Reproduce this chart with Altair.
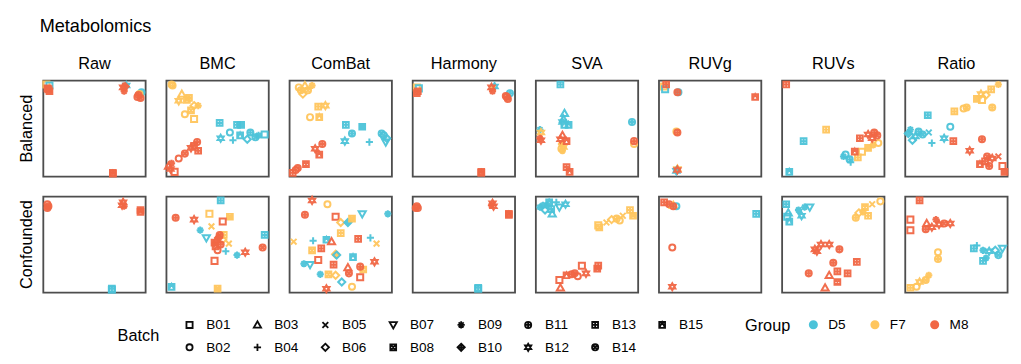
import altair as alt
import pandas as pd

METHODS = ["Raw", "BMC", "ComBat", "Harmony", "SVA", "RUVg", "RUVs", "Ratio"]
DESIGNS = ["Balanced", "Confounded"]
GROUPS = ["D5", "F7", "M8"]
GROUP_COLORS = ["#4CC3D9", "#FFC65D", "#F16745"]
BATCHES = ["B%02d" % i for i in range(1, 16)]

# (batch number, group letter, x, y) in 0-100 panel units
RAW_BAL = [(1,'F',3,96),(1,'D',6,95),(8,'M',4,92),(13,'M',6,89),(1,'M',5,91),
           (12,'D',81,95),(5,'F',79,92),(12,'M',78,93),(9,'M',79,89),(10,'M',80,94),
           (11,'D',96,88),(14,'F',94,86),(11,'M',93,85),(14,'M',95,82),(2,'M',92,83),
           (13,'M',68,4),(15,'M',68,3)]
RAW_CON = [(2,'M',4,92),(11,'M',5,90),(14,'M',4,88),
           (12,'M',78,94),(9,'M',79,90),(12,'M',77,91),
           (15,'M',95,84),(8,'M',95,86),
           (13,'D',67,4),(1,'D',67,3)]
BMC_BAL = [(2,'F',5,96),(11,'F',6,95),(3,'F',15,86),(12,'F',12,79),(13,'F',22,82),(6,'F',27,74),
           (9,'F',31,74),(2,'F',18,65),(1,'F',27,60),(8,'F',24,69),(15,'F',20,80),
           (13,'D',52,56),(13,'D',69,54),(8,'D',73,54),(12,'D',53,40),(2,'D',62,46),(4,'D',65,38),
           (15,'D',72,43),(6,'D',79,39),(11,'D',82,46),(9,'D',90,43),(1,'D',96,44),(14,'D',87,41),
           (11,'M',30,36),(12,'M',24,30),(13,'M',31,27),(14,'M',18,24),(2,'M',12,19),(9,'M',5,14),
           (3,'M',2,11),(12,'M',4,8),(1,'M',8,5),(15,'M',27,32)]
BMC_CON = [(13,'D',53,96),(11,'M',9,78),(12,'M',27,76),(1,'F',42,82),(8,'F',62,79),(1,'M',55,74),
           (9,'D',33,65),(7,'D',39,57),(5,'F',44,69),(5,'F',61,51),(13,'F',56,60),(6,'F',55,55),
           (3,'M',49,55),(14,'M',52,60),(2,'M',50,44),(11,'M',53,50),(8,'M',47,52),(15,'M',48,48),
           (10,'M',51,57),(4,'D',58,43),(1,'M',47,33),
           (9,'D',69,39),(12,'M',77,42),(14,'M',94,47),(13,'D',96,60),(15,'D',5,6),(8,'F',50,4)]
COMBAT_BAL = [(2,'F',9,93),(3,'F',15,95),(9,'F',22,95),(14,'F',18,90),(6,'F',13,86),(11,'F',11,90),
              (13,'F',28,73),(12,'F',35,74),(2,'F',20,62),(15,'F',29,62),
              (13,'D',55,54),(8,'D',71,52),(11,'D',61,45),(12,'D',54,37),(4,'D',78,36),(2,'D',92,43),
              (14,'D',90,45),(6,'D',95,40),(7,'D',94,36),
              (11,'M',32,34),(12,'M',25,29),(15,'M',29,23),(8,'M',16,13),(2,'M',6,7),(13,'M',3,4),(14,'M',8,9)]
COMBAT_CON = [(12,'M',22,96),(2,'F',37,92),(11,'M',15,81),(1,'M',45,79),(6,'F',50,73),(10,'D',57,73),
              (8,'F',61,77),(7,'D',71,82),(9,'D',96,82),(13,'F',50,62),(5,'F',4,53),(4,'D',23,54),
              (15,'D',36,55),(3,'M',41,53),(13,'M',67,56),(4,'D',79,57),(5,'F',85,51),(8,'F',22,44),
              (13,'M',31,46),(10,'F',45,40),(6,'D',46,39),(9,'D',14,30),(7,'D',20,29),(1,'M',28,34),
              (15,'D',62,37),(13,'M',43,29),(3,'M',57,26),(8,'F',72,24),(11,'M',69,27),(12,'M',83,32),
              (14,'M',58,20),(9,'D',30,19),(8,'F',38,19),(6,'F',45,18),(1,'M',69,16),(6,'D',51,11),
              (2,'F',61,6),(12,'M',36,4)]
HARMONY_BAL = [(1,'F',4,93),(1,'D',6,92),(13,'M',5,89),(8,'M',4,87),
               (12,'D',80,94),(5,'F',78,92),(12,'M',77,93),(9,'M',78,89),
               (11,'D',95,87),(11,'M',92,83),(14,'M',93,81),(2,'M',91,84),
               (13,'M',67,5),(15,'M',67,4)]
HARMONY_CON = [(2,'M',4,90),(11,'M',5,88),(14,'M',3,88),
               (12,'M',78,93),(9,'M',77,91),(12,'M',79,90),
               (15,'M',94,81),(8,'M',94,82),
               (13,'D',64,5),(1,'D',64,4)]
SVA_BAL = [(13,'D',24,96),(3,'D',28,66),(3,'D',27,60),(1,'D',28,54),(15,'D',32,54),(12,'D',26,57),
           (9,'D',4,49),(12,'F',5,46),(12,'M',5,38),(9,'M',4,40),
           (9,'F',25,34),(9,'F',26,27),(12,'F',27,31),(2,'F',25,29),
           (3,'M',26,43),(15,'M',30,37),(12,'M',24,39),
           (11,'D',94,57),(2,'F',96,34),(11,'M',96,37),
           (13,'M',30,10),(15,'M',33,5)]
SVA_CON = [(9,'D',4,89),(9,'D',11,91),(3,'D',16,82),(7,'D',23,89),(12,'D',29,92),(15,'D',13,94),
           (9,'D',7,91),(4,'D',20,94),(13,'D',15,87),(6,'D',9,86),
           (1,'F',61,70),(8,'F',62,68),(5,'F',69,73),(6,'F',74,76),(2,'F',82,75),(5,'F',85,80),
           (13,'F',92,86),(8,'F',95,80),(11,'F',79,77),
           (1,'M',23,13),(3,'M',24,5),(11,'M',35,19),(14,'M',38,20),(1,'M',45,28),(12,'M',49,20),
           (8,'M',60,25),(13,'M',61,28),(2,'M',41,17),(15,'M',30,18)]
RUVG_BAL = [(1,'F',5,94),(1,'D',6,91),(13,'M',7,96),(11,'D',19,88),(11,'M',18,88),(15,'M',94,83),
            (2,'F',17,47),(11,'M',18,46),(12,'F',18,8),(12,'D',17,6),(12,'M',18,7)]
RUVG_CON = [(13,'M',5,94),(11,'M',10,92),(3,'F',14,91),(2,'D',17,90),(11,'M',14,90),(13,'D',95,82),
            (2,'M',13,47),(12,'M',13,6)]
RUVS_BAL = [(13,'M',4,96),(13,'F',43,49),(13,'D',21,37),(15,'D',7,5),
            (2,'D',62,23),(11,'D',66,18),(4,'D',67,15),(9,'D',60,21),
            (2,'F',94,35),(8,'F',84,30),(1,'F',78,26),(13,'F',74,20),(9,'F',89,33),
            (13,'M',76,40),(12,'M',84,44),(11,'M',90,46),(14,'M',93,43),(12,'M',88,40),(15,'M',71,26)]
RUVS_CON = [(13,'D',4,92),(15,'D',7,74),(3,'D',6,83),(9,'D',16,86),(9,'D',22,89),(7,'D',27,89),
            (12,'D',19,80),(1,'D',5,79),
            (2,'F',96,95),(6,'F',75,83),(8,'F',81,89),(5,'F',88,92),(11,'F',72,78),(13,'F',84,80),(9,'F',79,84),
            (12,'M',32,45),(12,'M',38,50),(12,'M',46,50),(11,'M',56,45),(11,'M',50,31),(11,'M',26,20),
            (3,'M',46,18),(13,'M',54,22),(13,'M',64,20),(13,'M',73,32),(8,'M',54,11),(3,'M',42,5),(12,'M',34,43)]
RATIO_BAL = [(9,'F',91,96),(13,'F',84,91),(12,'F',74,86),(8,'F',70,81),(6,'F',79,85),(1,'F',75,80),
             (11,'F',85,72),(14,'F',60,72),(13,'F',48,68),(2,'F',57,71),
             (13,'D',22,64),(9,'D',5,49),(12,'D',10,42),(11,'D',13,47),(6,'D',7,38),(5,'D',23,46),
             (4,'D',26,35),(12,'D',38,40),(2,'D',44,52),(14,'D',17,44),(10,'D',3,45),
             (13,'M',47,37),(11,'M',75,39),(12,'M',63,27),(14,'M',80,21),(13,'M',78,16),(12,'M',85,19),
             (5,'M',91,21),(15,'M',73,13),(1,'M',95,11),(8,'M',97,5),(11,'M',82,11)]
RATIO_CON = [(13,'M',14,96),(1,'M',5,76),(1,'M',5,65),(3,'M',21,72),(11,'M',20,66),(12,'M',26,68),
             (12,'M',33,71),(14,'M',38,72),(12,'M',44,72),(9,'M',30,76),
             (4,'D',70,49),(13,'D',67,46),(9,'D',76,44),(12,'D',82,43),(6,'D',88,44),(7,'D',95,46),
             (9,'D',79,36),(13,'D',76,33),(14,'D',91,39),
             (2,'F',32,42),(11,'F',32,35),(14,'F',20,13),(2,'F',11,6),(13,'F',5,5),(9,'F',23,18),(12,'F',14,11)]

PANELS = {
    ("Raw", "Balanced"): RAW_BAL, ("Raw", "Confounded"): RAW_CON,
    ("BMC", "Balanced"): BMC_BAL, ("BMC", "Confounded"): BMC_CON,
    ("ComBat", "Balanced"): COMBAT_BAL, ("ComBat", "Confounded"): COMBAT_CON,
    ("Harmony", "Balanced"): HARMONY_BAL, ("Harmony", "Confounded"): HARMONY_CON,
    ("SVA", "Balanced"): SVA_BAL, ("SVA", "Confounded"): SVA_CON,
    ("RUVg", "Balanced"): RUVG_BAL, ("RUVg", "Confounded"): RUVG_CON,
    ("RUVs", "Balanced"): RUVS_BAL, ("RUVs", "Confounded"): RUVS_CON,
    ("Ratio", "Balanced"): RATIO_BAL, ("Ratio", "Confounded"): RATIO_CON,
}
GROUP_NAME = {"D": "D5", "F": "F7", "M": "M8"}

rows = []
order = 0
for (method, design), pts in PANELS.items():
    for b, g, x, y in pts:
        rows.append({"method": method, "design": design, "batch": "B%02d" % b,
                     "group": GROUP_NAME[g], "x": x, "y": y, "order": order})
        order += 1
df = pd.DataFrame(rows)

SQ = "M-0.8,-0.8H0.8V0.8H-0.8Z"
CIRC = "M0.85,0A0.85,0.85,0,1,1,-0.85,0A0.85,0.85,0,1,1,0.85,0Z"
SHAPE_PATHS = {
    "B01": "M-0.85,-0.85H0.85V0.85H-0.85Z",
    "B02": CIRC,
    "B03": "M0,-1L1,0.75H-1Z",
    "B04": "M-1,0H1M0,-1V1",
    "B05": "M-0.8,-0.8L0.8,0.8M-0.8,0.8L0.8,-0.8",
    "B06": "M0,-1L1,0L0,1L-1,0Z",
    "B07": "M0,1L1,-0.75H-1Z",
    "B08": SQ + "M-0.8,-0.8L0.8,0.8M-0.8,0.8L0.8,-0.8",
    "B09": "M-1,0H1M0,-1V1M-0.7,-0.7L0.7,0.7M-0.7,0.7L0.7,-0.7",
    "B10": "M0,-1L1,0L0,1L-1,0ZM-1,0H1M0,-1V1",
    "B11": CIRC + "M-0.85,0H0.85M0,-0.85V0.85",
    "B12": "M0,-1L0.87,0.5H-0.87ZM0,1L0.87,-0.5H-0.87Z",
    "B13": SQ + "M-0.8,0H0.8M0,-0.8V0.8",
    "B14": CIRC + "M-0.6,-0.6L0.6,0.6M-0.6,0.6L0.6,-0.6",
    "B15": SQ + "M-0.8,0.8L0,-0.8L0.8,0.8",
}
LEGEND_ORDER = BATCHES[0::2] + BATCHES[1::2]

FONT = "Liberation Sans"

base = alt.Chart(df).mark_point(filled=False, strokeWidth=2.2, size=62, opacity=0.95).encode(
    x=alt.X("x:Q", axis=None, scale=alt.Scale(domain=[0, 100], nice=False, zero=False)),
    y=alt.Y("y:Q", axis=None, scale=alt.Scale(domain=[0, 100], nice=False, zero=False)),
    shape=alt.Shape("batch:N",
                    scale=alt.Scale(domain=LEGEND_ORDER, range=[SHAPE_PATHS[b] for b in LEGEND_ORDER]),
                    legend=alt.Legend(title="Batch", orient="none", legendX=82, legendY=262,
                                      direction="horizontal", columns=8,
                                      titleOrient="left", titleAnchor="middle", titleBaseline="middle",
                                      symbolStrokeColor="black", symbolSize=64,
                                      symbolStrokeWidth=2, labelFontSize=15, titleFontSize=18,
                                      titleFontWeight="normal", columnPadding=21, rowPadding=8,
                                      labelOffset=11, titlePadding=25)),
    color=alt.Color("group:N",
                    scale=alt.Scale(domain=GROUPS, range=GROUP_COLORS),
                    legend=alt.Legend(title="Group", orient="none", legendX=775, legendY=262,
                                      direction="horizontal",
                                      titleOrient="left", symbolType="circle", symbolSize=25,
                                      symbolStrokeWidth=5, symbolOpacity=1, labelFontSize=15,
                                      titleFontSize=18, titleFontWeight="normal", columnPadding=19,
                                      labelOffset=9, titlePadding=17)),
    order=alt.Order("order:Q"),
).properties(width=113, height=106)

chart = base.facet(
    row=alt.Row("design:N", sort=DESIGNS, title=None,
                header=alt.Header(labelAngle=-90, labelOrient="left", labelFontSize=18,
                                  labelFont=FONT, labelPadding=-6)),
    column=alt.Column("method:N", sort=METHODS, title=None,
                      header=alt.Header(labelFontSize=18, labelFont=FONT, labelPadding=3)),
    spacing={"row": 10, "column": 9},
).properties(
    title=alt.TitleParams("Metabolomics", anchor="start", fontSize=20, fontWeight="normal",
                          font=FONT, dx=23, offset=23),
    padding={"left": 11, "top": -9, "right": 0, "bottom": 5},
).configure(font=FONT).configure_view(stroke="#4d4d4d", strokeWidth=2)

chart.save("out.html", embed_options={"renderer": "svg", "actions": False})
